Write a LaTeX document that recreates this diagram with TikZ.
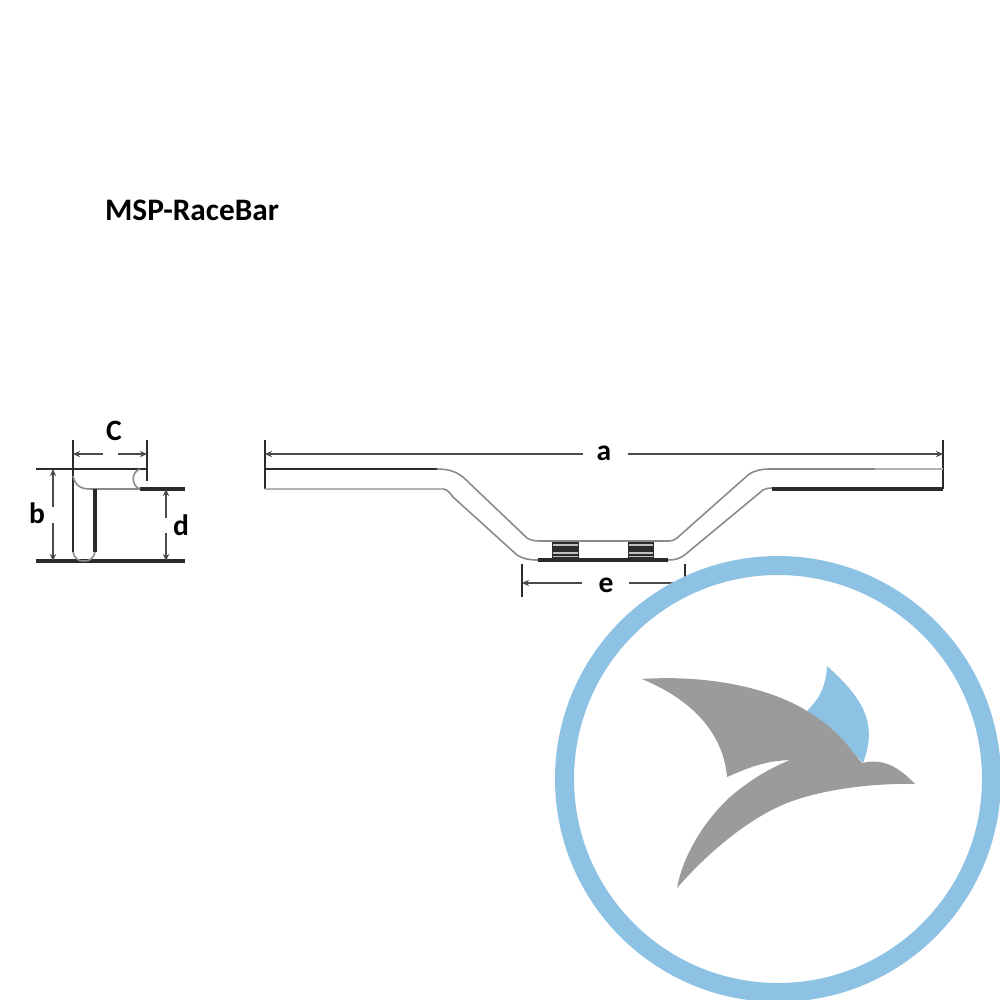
\documentclass[tikz,border=0pt]{standalone}
\usepackage{fontspec}
\setmainfont{Carlito}
\usetikzlibrary{arrows.meta}
\definecolor{ringblue}{HTML}{8DC2E4}
\definecolor{birdgrey}{HTML}{9B9B9B}
\definecolor{tubegrey}{HTML}{8A8A8A}
\definecolor{inkdark}{HTML}{2B2B2B}
\tikzset{
    dimtext/.style={font=\bfseries\fontsize{8.4pt}{8.4pt}\selectfont, text=black, inner sep=0pt},
    dimline/.style={draw=inkdark!85, line width=0.5pt, {Stealth[length=2pt,width=1.8pt]}-},
    extline/.style={draw=inkdark, line width=0.55pt},
    heavyline/.style={draw=inkdark, line width=0.95pt},
    tubeline/.style={draw=tubegrey, line width=0.45pt},
    palegrey/.style={draw=black!30, line width=0.5pt}
}
\begin{document}
\begin{tikzpicture}[x=0.01cm, y=-0.01cm]
    \useasboundingbox[fill=white] (0,0) rectangle (1000,1000);
    \clip (0,0) rectangle (1000,1000);

    \node[font=\bfseries\fontsize{8.9pt}{8.9pt}\selectfont, anchor=center, inner sep=0pt] (title) at (192,210) {MSP-RaceBar};

    % side view
    \coordinate (T1) at (36,469);
    \coordinate (T2) at (147,469);
    \coordinate (B1) at (36,561);
    \coordinate (B2) at (185,561);
    \coordinate (D1) at (140,489);
    \coordinate (D2) at (185,489);
    \draw[extline] (T1) -- (T2);
    \draw[heavyline] (B1) -- (B2);
    \draw[heavyline] (D1) -- (D2);
    \draw[extline] (73,440) -- (73,552);
    \draw[extline] (147,440) -- (147,481);
    \draw[tubeline] (73,476) .. controls (75,485) and (80,489) .. (90,489) -- (D1);
    \draw[tubeline] (140,469) .. controls (131,472) and (131,486) .. (140,489);
    \draw[heavyline] (95,489) -- (95,552);
    \draw[tubeline] (73,552) .. controls (75,559) and (78,561) .. (84,561) .. controls (90,561) and (93,559) .. (95,552);

    % side view dimensions
    \node[dimtext] (labC) at (114,431) {C};
    \node[dimtext] (labb) at (37,513) {b};
    \node[dimtext] (labd) at (181,525) {d};
    \coordinate (Cl) at (73,454);
    \coordinate (Cr) at (147,454);
    \coordinate (Cg1) at (103,454);
    \coordinate (Cg2) at (118,454);
    \draw[dimline] (Cl) -- (Cg1);
    \draw[dimline] (Cr) -- (Cg2);
    \coordinate (bt) at (53,469);
    \coordinate (bb) at (53,561);
    \draw[dimline] (bt) -- (53,507);
    \draw[dimline] (bb) -- (53,523);
    \coordinate (dt) at (166,489);
    \coordinate (db) at (166,561);
    \draw[dimline] (dt) -- (166,518);
    \draw[dimline] (db) -- (166,533);

    % front view
    \draw[extline] (265,440) -- (265,489);
    \draw[extline] (943,440) -- (943,489);
    \draw[extline] (265,469) -- (437,469);
    \draw[tubeline] (437,469) .. controls (450,469) and (456,472) .. (463,477)
        -- (527,538) .. controls (530,540) and (534,541) .. (540,541) -- (668,541)
        .. controls (672,541) and (675,540) .. (677,538) -- (748,475)
        .. controls (755,470) and (762,469) .. (770,469) -- (875,469);
    \draw[palegrey] (875,469) -- (943,469);
    \draw[palegrey] (265,489) -- (443,489);
    \draw[tubeline] (443,489) .. controls (447,489) and (450,493) .. (453,497)
        -- (517,555) .. controls (523,559) and (530,560) .. (538,560);
    \draw[tubeline] (668,560) .. controls (675,560) and (680,559) .. (687,553)
        -- (763,490) .. controls (765,489) and (768,488) .. (772,488);
    \draw[heavyline] (538,560) -- (668,560);
    \draw[heavyline] (772,489) -- (943,489);

    % clamp knurling
    \foreach \xa/\xb in {552/579, 628/654} {
        \fill[inkdark] (\xa,542) rectangle (\xb,560);
        \foreach \ya in {545, 553, 556.5} {
            \draw[black!25, line width=0.5pt] (\xa+1,\ya) -- (\xb-1,\ya);
        }
    }

    % front view dimensions
    \node[dimtext] (laba) at (604,453) {a};
    \node[dimtext] (labe) at (606,585) {e};
    \coordinate (al) at (265,454);
    \coordinate (ar) at (943,454);
    \draw[dimline] (al) -- (583,454);
    \draw[dimline] (ar) -- (628,454);
    \draw[extline] (522,564) -- (522,597);
    \draw[extline] (685,564) -- (685,597);
    \coordinate (el) at (522,583);
    \coordinate (er) at (685,583);
    \draw[dimline] (el) -- (582,583);
    \draw[dimline] (er) -- (629,583);

    % logo
    \fill[white] (778,779) circle (213.5);
    \draw[ringblue, line width=5.4pt] (778,779) circle (213.5);
    \fill[ringblue] (827,666) .. controls (845,682) and (862,700) .. (867,720)
        .. controls (871,735) and (868,750) .. (863,763) -- (833,730) -- (807,711)
        .. controls (816,702) and (826,690) .. cycle;
    \fill[birdgrey] (642,679) .. controls (700,675) and (765,685) .. (807,711)
        .. controls (835,728) and (845,742) .. (862,763)
        .. controls (880,759) and (895,763) .. (915,784)
        .. controls (870,783) and (820,790) .. (787,803)
        .. controls (752,817) and (712,848) .. (677,888)
        .. controls (682,860) and (700,825) .. (730,797)
        .. controls (750,780) and (770,768) .. (790,760)
        .. controls (765,761) and (750,767) .. (727,777)
        .. controls (724,740) and (700,703) .. cycle;
\end{tikzpicture}
\end{document}
